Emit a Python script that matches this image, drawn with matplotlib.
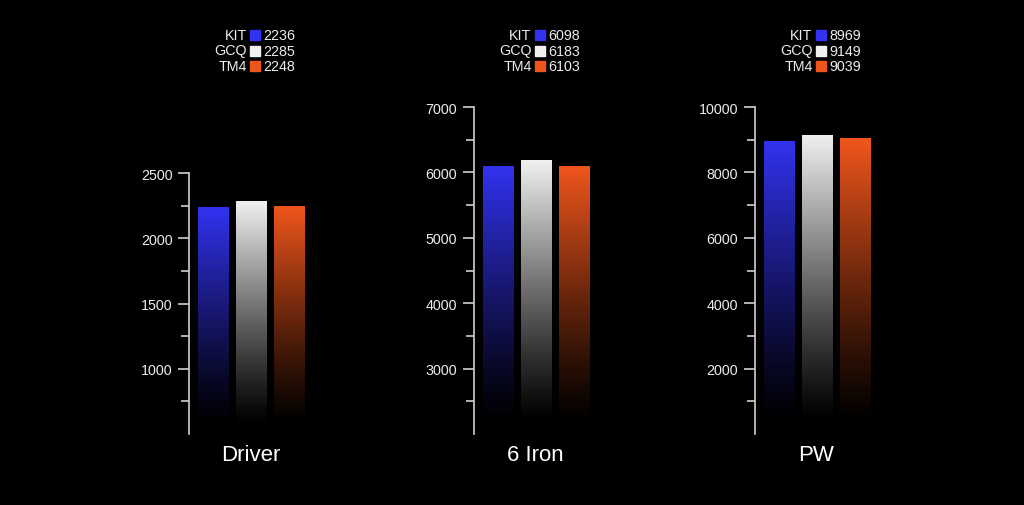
import numpy as np
import matplotlib
matplotlib.use("Agg")
import matplotlib.pyplot as plt
from matplotlib.colors import LinearSegmentedColormap
from matplotlib import transforms

plt.rcParams['font.family'] = ['Liberation Sans', 'DejaVu Sans']

# ---- data ----
clubs = ["Driver", "6 Iron", "PW"]
balls = ["KIT", "GCQ", "TM4"]
kit = [2236, 6098, 8969]
gcq = [2285, 6183, 9149]
tm4 = [2248, 6103, 9039]
ylims = [(500, 2500), (2000, 7000), (0, 10000)]
major_steps = [500, 1000, 2000]

colors = ["#3232F0", "#F0F0F0", "#F0561C"]
values = [kit, gcq, tm4]

W, H = 1024, 506
fig = plt.figure(figsize=(W / 100, H / 100), dpi=100, facecolor="black")

axis_x = [189.3, 474, 755]
unit = 38.0
xl = (-0.62, 2.62)
ax_w = (xl[1] - xl[0]) * unit
bottom_px = 435
top_px = [174, 108, 108]

spine_col = "#d0d0d0"
text_col = "#ececec"

for i, club in enumerate(clubs):
    lo, hi = ylims[i]
    ax = fig.add_axes([axis_x[i] / W, (H - bottom_px) / H,
                       ax_w / W, (bottom_px - top_px[i]) / H])
    ax.set_facecolor("black")
    for s in ["top", "right", "bottom"]:
        ax.spines[s].set_visible(False)
    ax.spines["left"].set_color(spine_col)
    ax.spines["left"].set_linewidth(1.2)
    step = major_steps[i]
    majors = np.arange(lo + step, hi + 1, step)
    minors = [m for m in np.arange(lo + step / 2, hi, step) if m not in majors]
    ax.set_yticks(majors)
    ax.set_yticks(minors, minor=True)
    ax.set_yticklabels([f"{int(v)}" for v in majors])
    ax.tick_params(axis="y", which="major", length=8, width=1.2, color=spine_col,
                   labelcolor=text_col, labelsize=10.3, pad=4)
    ax.tick_params(axis="y", which="minor", length=6, width=1.2, color=spine_col)
    ax.set_xticks([])

    xs = np.arange(len(balls))
    for j in range(len(balls)):
        v = values[j][i]
        bar = ax.bar(xs[j], v - lo, bottom=lo, width=0.79, color="none",
                     edgecolor="none")[0]
        cmap = LinearSegmentedColormap.from_list("g", ["#000000", colors[j]])
        t = np.linspace(0, 1, 256)
        grad = (np.clip((t - 0.04) / 0.96, 0, 1) ** 1.15).reshape(-1, 1)
        x0 = bar.get_x()
        im = ax.imshow(grad, cmap=cmap, vmin=0, vmax=1, origin="lower",
                       extent=[x0, x0 + bar.get_width(), lo, v],
                       aspect="auto", interpolation="bilinear", zorder=2)
        im.set_clip_path(bar)
    ax.set_xlim(*xl)
    ax.set_ylim(lo, hi)

    # category label
    ax.text(1, -21 / (bottom_px - top_px[i]), club, transform=ax.get_xaxis_transform(),
            ha="center", va="center", color="white", fontsize=16)

    # legend
    trans = transforms.blended_transform_factory(ax.transData, fig.transFigure)
    sq_x = 1 + 4.5 / unit
    row_y = [36, 51.5, 67]
    for j, b in enumerate(balls):
        yf = (H - row_y[j]) / H
        ax.plot([sq_x], [yf], marker="s", markersize=7.2, color=colors[j],
                transform=trans, clip_on=False, linestyle="none")
        ax.text(sq_x - 8.5 / unit, yf, b, transform=trans, ha="right", va="center",
                color=text_col, fontsize=10.3)
        ax.text(sq_x + 8.0 / unit, yf, f"{values[j][i]}", transform=trans,
                ha="left", va="center", color=text_col, fontsize=10.3)

fig.savefig("out.png", dpi=100, facecolor="black")
